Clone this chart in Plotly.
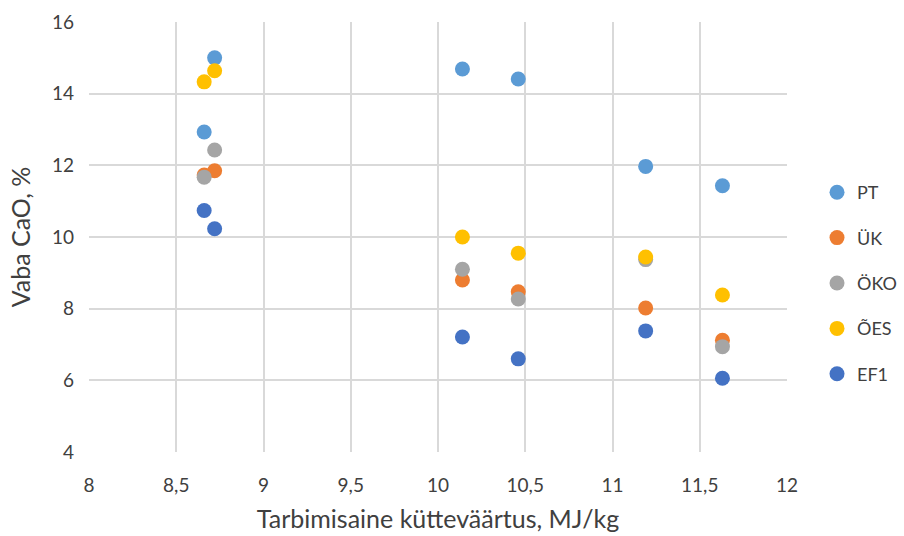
import plotly.graph_objects as go

x_vals = [8.66, 8.72, 10.14, 10.46, 11.19, 11.63]
series_names = ["PT", "ÜK", "ÖKO", "ÕES", "EF1"]
pt = [12.93, 15.0, 14.69, 14.41, 11.97, 11.43]
uk = [11.73, 11.85, 8.8, 8.47, 8.02, 7.12]
oko = [11.67, 12.43, 9.1, 8.27, 9.37, 6.94]
oes = [14.33, 14.64, 10.0, 9.55, 9.44, 8.38]
ef1 = [10.74, 10.23, 7.21, 6.6, 7.38, 6.06]
colors = ["#5B9BD5", "#ED7D31", "#A5A5A5", "#FFC000", "#4472C4"]
x_ticks = [8, 8.5, 9, 9.5, 10, 10.5, 11, 11.5, 12]
x_ticklabels = ["8", "8,5", "9", "9,5", "10", "10,5", "11", "11,5", "12"]
y_ticks = [4, 6, 8, 10, 12, 14, 16]

fig = go.Figure()
for name, ys, c in zip(series_names, [pt, uk, oko, oes, ef1], colors):
    fig.add_trace(go.Scatter(x=x_vals, y=ys, mode="markers", name=name,
                             legendgroup=name,
                             marker=dict(color=c, size=15, line=dict(width=0))))

font = "Lato, 'Open Sans', sans-serif"
txt = "#404040"
fig.update_layout(
    width=904, height=536,
    margin=dict(l=89, r=117, t=22, b=84, autoexpand=False),
    paper_bgcolor="white", plot_bgcolor="white",
    font=dict(family=font, size=19, color=txt),
    legend=dict(x=1.043, y=0.393, yanchor="middle", xanchor="left",
                font=dict(size=18, color=txt), tracegroupgap=19,
                itemwidth=30),
    xaxis=dict(range=[8, 12], tickvals=x_ticks, ticktext=x_ticklabels,
               showgrid=True, gridcolor="#D9D9D9", gridwidth=2,
               zeroline=False, showline=False, ticks="",
               ticklabelstandoff=20,
               title=dict(text="Tarbimisaine kütteväärtus, MJ/kg", font=dict(size=25, color=txt), standoff=15)),
    yaxis=dict(range=[4, 16], tickvals=y_ticks,
               showgrid=True, gridcolor="#D9D9D9", gridwidth=2,
               zeroline=False, showline=False, ticks="",
               ticklabelstandoff=14,
               title=dict(text="Vaba CaO, %", font=dict(size=25, color=txt), standoff=14)),
)
fig.write_html("out.html")
